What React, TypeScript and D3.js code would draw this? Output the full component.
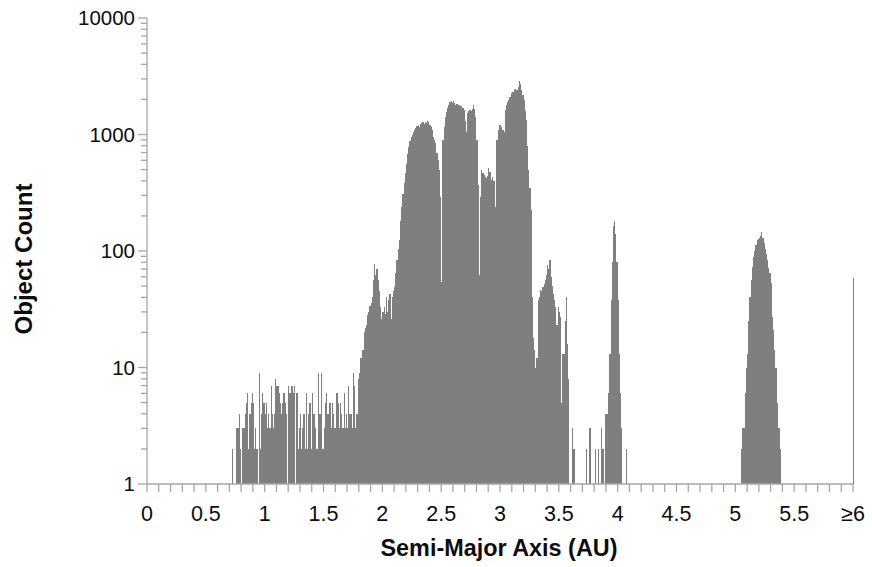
import React from "react";
import * as d3 from "d3";

// ---- data (object counts per 0.01 AU bin) ----
const binWidth = 0.01;

const innerStart = 0.7; // 0.70 – 1.79 AU
const innerCounts = [
  0, 0, 2, 0, 0, 0, 3, 3, 4, 2,
  0, 3, 3, 4, 5, 6, 2, 4, 5, 6,
  5, 2, 3, 2, 0, 9, 2, 4, 6, 5,
  4, 5, 3, 4, 3, 7, 4, 3, 4, 8,
  7, 7, 6, 5, 4, 5, 6, 5, 4, 0,
  7, 6, 7, 7, 6, 7, 0, 6, 2, 3,
  4, 2, 3, 4, 2, 6, 2, 4, 5, 2,
  6, 4, 4, 3, 2, 9, 4, 4, 9, 2,
  3, 5, 6, 4, 4, 5, 3, 5, 4, 3,
  3, 6, 5, 3, 5, 4, 3, 6, 3, 4,
  3, 7, 4, 4, 3, 9, 7, 3, 4, 8,
];

const hungariaStart = 1.8; // 1.80 – 2.14 AU
const hungariaCounts = [
  9, 12, 12, 14, 20, 22, 23, 28, 30, 34,
  36, 40, 56, 78, 62, 70, 56, 45, 33, 26,
  30, 33, 29, 40, 30, 38, 43, 26, 40, 45,
  49, 65, 84, 105, 124,
];

const mainBeltStart = 2.15; // 2.15 – 3.59 AU
const mainBeltCounts = [
  180, 240, 310, 380, 465,
  560, 680, 785, 880, 950, 1000, 1050, 1100, 1130, 1180,
  1200, 1160, 1230, 1250, 1270, 1240, 1290, 1260, 1310, 1290,
  1200, 1150, 1090, 960, 900, 845, 700, 600, 500, 290,
  54, 900, 1160, 1400, 1570, 1700, 1800, 1900, 1950, 1880,
  1920, 1850, 1800, 1820, 1780, 1800, 1760, 1750, 1700, 1620,
  1300, 1050, 1530, 1600, 1620, 1580, 1650, 1800, 1650, 1420,
  900, 370, 62, 290, 500, 470, 450, 435, 420, 440,
  515, 480, 405, 430, 400, 400, 240, 895, 1100, 1200,
  1200, 1150, 1100, 1050, 1620, 1800, 1900, 1980, 2100, 2250,
  2330, 2330, 2400, 2450, 2420, 2550, 2900, 2700, 2400, 2200,
  1980, 1600, 1330, 800, 500, 350, 225, 40, 18, 14,
  10, 12, 38, 40, 46, 45, 49, 52, 56, 62,
  76, 70, 84, 60, 50, 43, 38, 33, 23, 33,
  30, 27, 5, 13, 13, 25, 40, 16, 8, 0,
];

const hildaStart = 3.6; // 3.60 – 4.07 AU
const hildaCounts = [
  0, 3, 2, 2, 0, 0, 0, 0, 0, 0,
  0, 0, 0, 2, 0, 0, 3, 0, 0, 0,
  0, 2, 0, 2, 0, 0, 3, 2, 0, 4,
  4, 4, 6, 13, 38, 80, 165, 180, 140, 80,
  38, 13, 6, 3, 0, 0, 0, 2,
];

const trojanStart = 5.05; // 5.05 – 5.38 AU
const trojanCounts = [
  2, 3, 3, 6, 10, 13, 25, 40, 56, 73,
  89, 100, 113, 124, 128, 130, 135, 146, 130, 117,
  105, 95, 84, 72, 65, 53, 27, 21, 14, 10,
  5, 3, 3, 2,
];

const beyondStart = 6.0; // the "≥6" bin
const beyondCounts = [59];

const xTickValues = [0, 0.5, 1, 1.5, 2, 2.5, 3, 3.5, 4, 4.5, 5, 5.5, 6];
const xTickLabels = ["0", "0.5", "1", "1.5", "2", "2.5", "3", "3.5", "4", "4.5", "5", "5.5", "≥6"];
const yTickValues = [1, 10, 100, 1000, 10000];
const yTickLabels = ["1", "10", "100", "1000", "10000"];

const xTitle = "Semi-Major Axis (AU)";
const yTitle = "Object Count";

// ---- layout ----
const W = 872;
const H = 567;
const plotLeft = 147;
const plotRight = 853;
const plotTop = 18;
const plotBottom = 484;

const BAR = "#7f7f7f";
const AXIS = "#a6a6a6";
const TEXT = "#0d0d0d";
const FONT = "'Liberation Sans', Arial, sans-serif";

type Bin = { a: number; c: number };
const expand = (start: number, counts: number[]): Bin[] =>
  counts.map((c, i) => ({ a: Math.round((start + i * binWidth) * 100) / 100, c }));

const bins: Bin[] = [
  ...expand(innerStart, innerCounts),
  ...expand(hungariaStart, hungariaCounts),
  ...expand(mainBeltStart, mainBeltCounts),
  ...expand(hildaStart, hildaCounts),
  ...expand(trojanStart, trojanCounts),
  ...expand(beyondStart, beyondCounts),
].filter((b) => b.c > 0);

export default function App() {
  const x = d3.scaleLinear().domain([0, 6]).range([plotLeft, plotRight]);
  const y = d3.scaleLog().domain([1, 10000]).range([plotBottom, plotTop]);

  const minorX = d3.range(0, 61).map((i) => i / 10);
  const minorY: number[] = [];
  for (let p = 0; p < 4; p++) {
    for (let k = 2; k <= 9; k++) minorY.push(k * Math.pow(10, p));
  }

  return (
    <svg
      width={W}
      height={H}
      viewBox={`0 0 ${W} ${H}`}
      style={{ position: "absolute", left: 0, top: 0, background: "#fff" }}
    >
      <rect x={0} y={0} width={W} height={H} fill="#fff" />
      {/* bars */}
      <g shapeRendering="crispEdges">
        {bins.map((b, i) => (
          <rect
            key={i}
            x={x(b.a)}
            y={y(b.c)}
            width={x(b.a + binWidth) - x(b.a)}
            height={y(1) - y(b.c)}
            fill={BAR}
          />
        ))}
      </g>
      {/* y axis */}
      <g stroke={AXIS} strokeWidth={1.3}>
        <line x1={plotLeft} x2={plotLeft} y1={plotTop} y2={plotBottom} />
        {yTickValues.map((v) => (
          <line key={"yM" + v} x1={plotLeft - 9} x2={plotLeft} y1={y(v)} y2={y(v)} />
        ))}
        {minorY.map((v) => (
          <line key={"ym" + v} x1={plotLeft - 6} x2={plotLeft} y1={y(v)} y2={y(v)} />
        ))}
      </g>
      {/* x axis */}
      <g stroke={AXIS} strokeWidth={1.3}>
        <line x1={plotLeft} x2={plotRight} y1={plotBottom} y2={plotBottom} />
        {minorX.map((v) => (
          <line key={"xm" + v} x1={x(v)} x2={x(v)} y1={plotBottom} y2={plotBottom + 8} />
        ))}
      </g>
      {/* tick labels */}
      <g fill={TEXT} fontFamily={FONT}>
        {yTickValues.map((v, i) => (
          <text key={"yl" + v} x={plotLeft - 12} y={y(v)} dy="0.36em" textAnchor="end" fontSize={20.5}>
            {yTickLabels[i]}
          </text>
        ))}
        {xTickValues.map((v, i) => (
          <text key={"xl" + v} x={x(v)} y={521} textAnchor="middle" fontSize={21.5}>
            {xTickLabels[i]}
          </text>
        ))}
      </g>
      {/* titles */}
      <text
        x={499}
        y={556}
        textAnchor="middle"
        fontFamily={FONT}
        fontWeight="bold"
        fontSize={23}
        fill={TEXT}
        textLength={237}
        lengthAdjust="spacingAndGlyphs"
      >
        {xTitle}
      </text>
      <text
        transform={`translate(32,259) rotate(-90)`}
        textAnchor="middle"
        fontFamily={FONT}
        fontWeight="bold"
        fontSize={23}
        fill={TEXT}
        textLength={151}
        lengthAdjust="spacingAndGlyphs"
      >
        {yTitle}
      </text>
    </svg>
  );
}
